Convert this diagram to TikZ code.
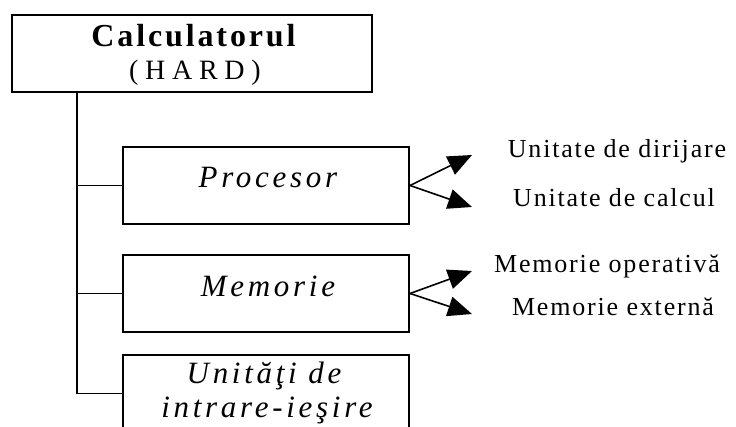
\documentclass[tikz,border=0pt]{standalone}
\usepackage{fontspec}
\setmainfont{Liberation Serif}
\usetikzlibrary{arrows.meta}
% tracked serif faces for the different text levels
\newfontfamily\headfont[LetterSpace=9]{Liberation Serif}
\newfontfamily\hardfont[LetterSpace=24]{Liberation Serif}
\newfontfamily\boxfont[LetterSpace=12]{Liberation Serif}
\newfontfamily\leaffont[LetterSpace=7]{Liberation Serif}

\begin{document}
\begin{tikzpicture}[x=1pt,y=-1pt,
  box/.style={draw, line width=2pt, inner sep=0pt, minimum height=77pt},
  conn/.style={line width=1.6pt},
  arr/.style={conn, -{Triangle[length=24pt,width=20pt]}},
  txt/.style={anchor=base, inner sep=0pt},
  headtxt/.style={txt, font=\headfont\bfseries\fontsize{32}{38}\selectfont},
  hardtxt/.style={txt, font=\hardfont\fontsize{28}{34}\selectfont},
  boxtxt/.style={txt, font=\boxfont\itshape\fontsize{31}{37}\selectfont},
  leaftxt/.style={txt, font=\leaffont\fontsize{26}{31}\selectfont}]
\useasboundingbox (0,0) rectangle (736,427);

% boxes
\node[box, minimum width=360pt] (calc) at (192,53.5) {};
\node[box, minimum width=286pt] (proc) at (266,185.5) {};
\node[box, minimum width=286pt] (mem)  at (266,293.5) {};
\node[box, minimum width=286pt] (io)   at (266,393.5) {};

% box texts (x shifted by half a tracking gap)
\node[headtxt] (tcalc) at (193.5,47) {Calculatorul};
\node[hardtxt] (thard) at (195,80) {(HARD)};
\node[boxtxt] (tproc) at (268,188) {Procesor};
\node[boxtxt] (tmem)  at (268,297) {Memorie};
\node[boxtxt] (tio1)  at (264,383) {Unităţi de};
\node[boxtxt] (tio2)  at (267,417) {intrare-ieşire};

% tree spine and branches
\coordinate (sp) at (77,0);
\draw[conn] (calc.south -| sp) |- (io.west);
\draw[conn] (proc.west -| sp) -- (proc.west);
\draw[conn] (mem.west -| sp) -- (mem.west);

% arrow targets
\coordinate (p1) at (472,155);
\coordinate (p2) at (472,207);
\coordinate (m1) at (472,271);
\coordinate (m2) at (472,314);
\draw[arr] (proc.east) -- (p1);
\draw[arr] (proc.east) -- (p2);
\draw[arr] (mem.east) -- (m1);
\draw[arr] (mem.east) -- (m2);

% leaf texts
\node[leaftxt] (l1) at (617,158) {Unitate de dirijare};
\node[leaftxt] (l2) at (614,207) {Unitate de calcul};
\node[leaftxt] (l3) at (607,273) {Memorie operativă};
\node[leaftxt] (l4) at (613,316) {Memorie externă};
\end{tikzpicture}
\end{document}
